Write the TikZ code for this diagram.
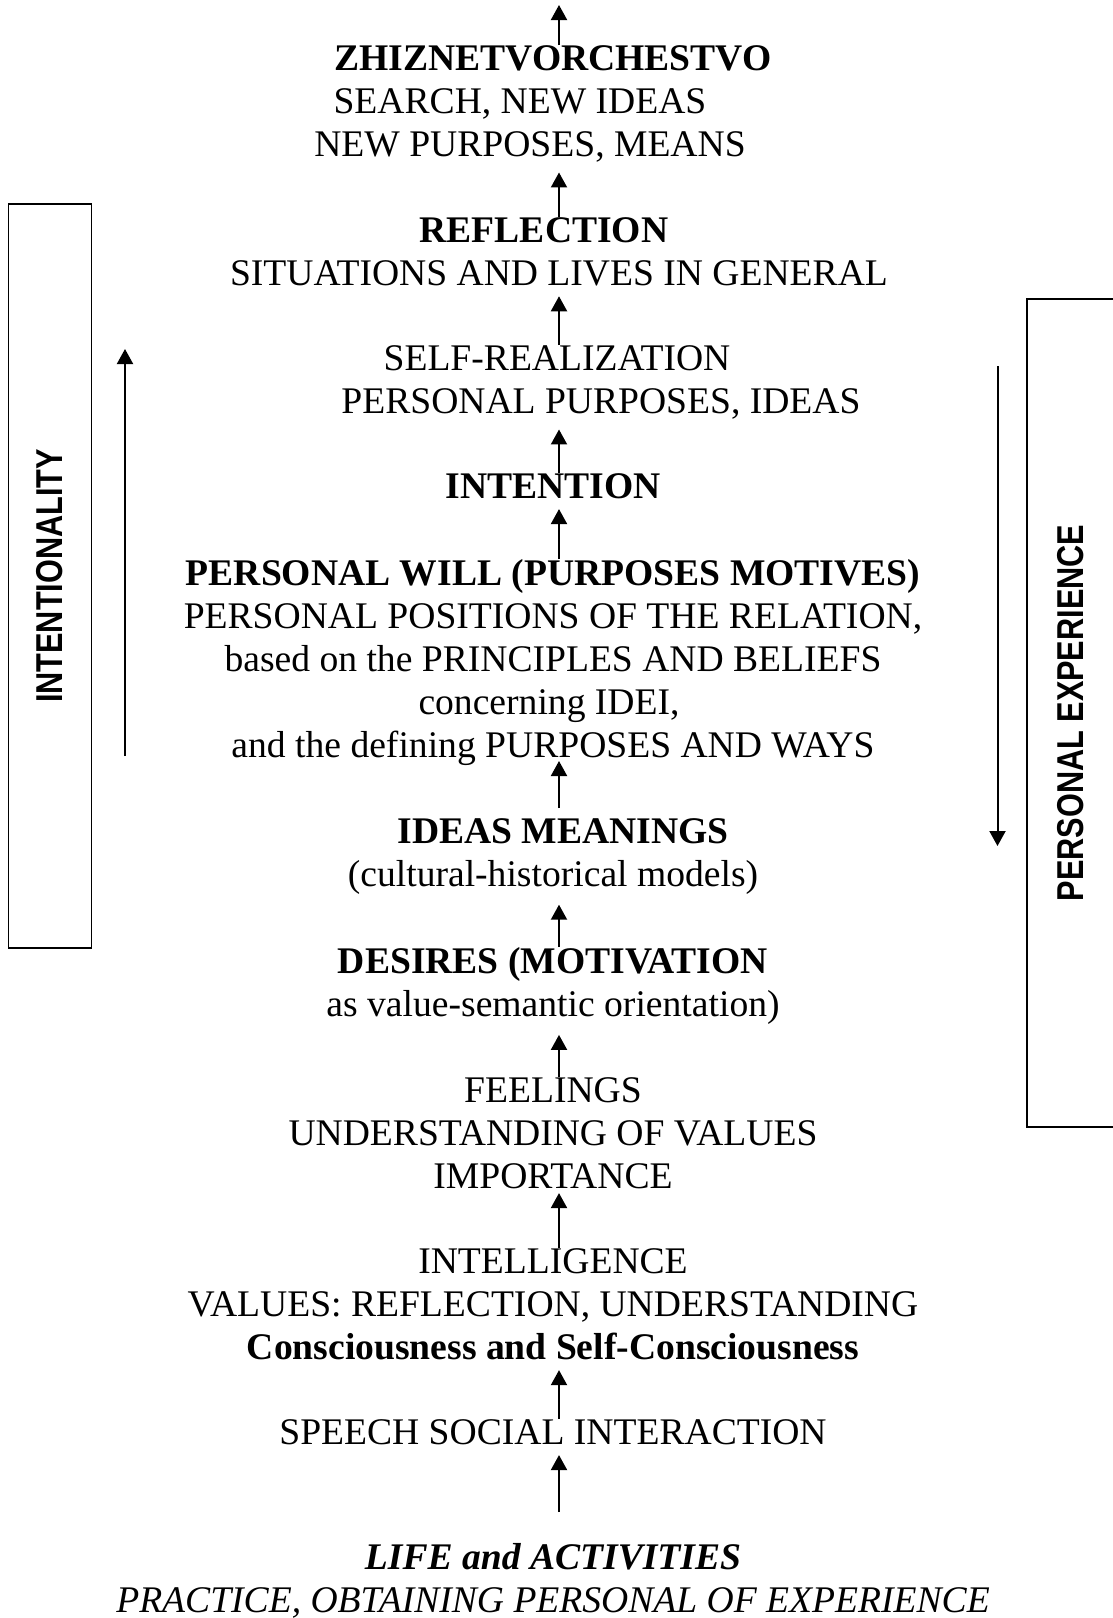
\documentclass[tikz,border=0pt]{standalone}
\usepackage{fontspec}
\setmainfont{Liberation Serif}
\newfontfamily\sidefont[FakeStretch=0.82]{Liberation Sans}
\usepackage{tikz}
\usetikzlibrary{positioning,arrows.meta,calc}
\newcommand{\bodysize}{\fontsize{18.8}{21.5}\selectfont}
\newcommand{\pad}[1]{\hspace*{#1}\null}

\begin{document}
\begin{tikzpicture}[
  x=0.5pt, y=-0.5pt,
  txt/.style={align=center, inner sep=0pt, anchor=north, font=\bodysize},
  side/.style={draw, line width=0.7pt, rotate=90, inner sep=0pt,
               font=\sidefont\bfseries\fontsize{18.7}{21}\selectfont},
  link/.style={->, line width=1pt, shorten >=5pt},
  >={Triangle[length=7.5pt,width=8pt]}
]
\useasboundingbox (0,0) rectangle (1113,1618);
\coordinate (axis) at (559,0);
\coordinate (top) at (559,5);

\node[txt] (zhiz) at (553,45) {\textbf{ZHIZNETVORCHESTVO}\\
  SEARCH, NEW IDEAS\pad{33pt}\\NEW PURPOSES, MEANS\pad{23pt}};
\node[txt] (refl) at (559,217) {\textbf{REFLECTION}\pad{15pt}\\
  SITUATIONS AND LIVES IN GENERAL};
\node[txt] (selfr) at (557,345) {SELF-REALIZATION\\
  \pad{44pt}PERSONAL PURPOSES, IDEAS};
\node[txt] (intent) at (553,473) {\textbf{INTENTION}};
\node[txt] (will) at (553,559) {\textbf{PERSONAL WILL (PURPOSES MOTIVES)}\\
  PERSONAL POSITIONS OF THE RELATION,\\
  based on the PRINCIPLES AND BELIEFS\\
  concerning IDEI,\pad{4pt}\\
  and the defining PURPOSES AND WAYS};
\node[txt] (ideas) at (553,818) {\pad{10pt}\textbf{IDEAS MEANINGS}\\
  (cultural-historical models)};
\node[txt] (desires) at (553,947) {\textbf{DESIRES (MOTIVATION}\\
  as value-semantic orientation)};
\node[txt] (feel) at (553,1077) {FEELINGS\\UNDERSTANDING OF VALUES\\IMPORTANCE};
\node[txt] (intel) at (553,1248) {INTELLIGENCE\\VALUES: REFLECTION, UNDERSTANDING\\
  \textbf{Consciousness and Self-Consciousness}};
\node[txt] (speech) at (553,1419) {SPEECH SOCIAL INTERACTION};
\node[txt] (life) at (553,1543) {\textbf{\textit{LIFE and ACTIVITIES}}\\
  \textit{PRACTICE, OBTAINING PERSONAL OF EXPERIENCE}};

\node[side, minimum width=372pt, minimum height=41.75pt] (intbox) at (50,576) {INTENTIONALITY};
\node[side, minimum width=414pt, minimum height=44pt] (expbox) at (1071,713) {PERSONAL EXPERIENCE};

\coordinate (intlow) at (125,756);
\coordinate (inthigh) at (125,349);
\coordinate (exphigh) at (997.5,366);
\coordinate (explow) at (997.5,846);

\draw[link, shorten >=0pt] (zhiz.north -| axis) -- (top);
\draw[link] (refl.north -| axis) -- (zhiz.south -| axis);
\draw[link] (selfr.north -| axis) -- (refl.south -| axis);
\draw[link] (intent.north -| axis) -- (selfr.south -| axis);
\draw[link] (will.north -| axis) -- (intent.south -| axis);
\draw[link, shorten <=5pt, shorten >=-2.5pt] (ideas.north -| axis) -- (will.south -| axis);
\draw[link] (desires.north -| axis) -- (ideas.south -| axis);
\draw[link] (feel.north -| axis) -- (desires.south -| axis);
\draw[link, shorten >=2pt] (intel.north -| axis) -- (feel.south -| axis);
\draw[link] (speech.north -| axis) -- (intel.south -| axis);
\draw[link, shorten <=15.5pt] (life.north -| axis) -- (speech.south -| axis);

\draw[link, shorten >=0pt] (intlow) -- (inthigh);
\draw[link, shorten >=0pt] (exphigh) -- (explow);
\end{tikzpicture}
\end{document}
